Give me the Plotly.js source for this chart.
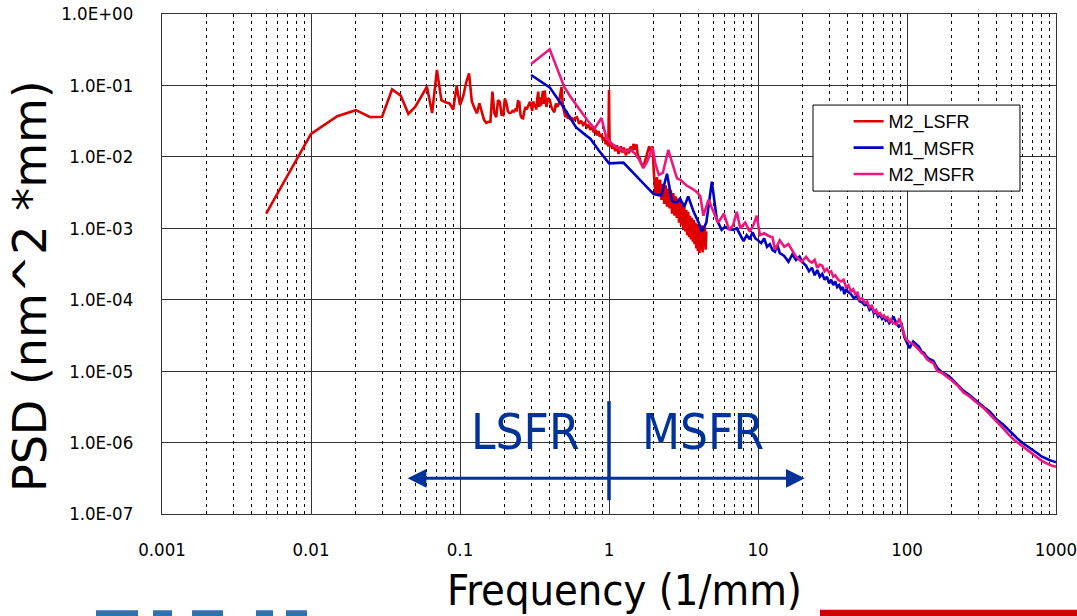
<!DOCTYPE html>
<html><head><meta charset="utf-8">
<script src="https://cdn.plot.ly/plotly-3.0.1.min.js"></script>
<style>html,body{margin:0;padding:0;background:#fff}#chart{width:1077px;height:616px}</style>
</head><body><div id="chart"></div>
<script>
// ---- data: M2_LSFR (red) ----
const lsfrFreq = [0.005,0.010,0.015,0.020,0.025,0.030,0.035,0.040,0.045,0.050,0.055,0.060,0.065,0.070,0.075,0.080,0.085,0.090,0.095,0.100,
0.105,0.110,0.115,0.120,0.125,0.130,0.135,0.140,0.145,0.150,0.155,0.160,0.165,0.170,0.175,0.180,0.185,0.190,0.195,0.200,
0.205,0.210,0.215,0.220,0.225,0.230,0.235,0.240,0.245,0.250,0.255,0.260,0.265,0.270,0.275,0.280,0.285,0.290,0.295,0.300,
0.305,0.310,0.315,0.320,0.325,0.330,0.335,0.340,0.345,0.350,0.360,0.365,0.370,0.380,0.390,0.400,0.410,0.420,0.430,0.440,
0.450,0.460,0.470,0.480,0.490,0.500,0.510,0.520,0.530,0.540,0.550,0.560,0.570,0.590,0.610,0.630,0.650,0.670,0.690,0.710,
0.730,0.750,0.770,0.790,0.810,0.830,0.850,0.870,0.890,0.910,0.930,0.950,0.970,0.990,1.000,1.005,1.010,
1.02,1.05,1.08,1.10,1.13,1.16,1.20,1.23,1.26,1.30,1.33,1.36,1.40,1.43,1.46,1.50,1.53,1.56,1.60,1.63,1.66,1.70,1.73,1.76,1.80,1.83,1.86,1.90,1.93,1.96,
2.00,2.05,2.10,2.15,2.20,2.25,2.30,2.35,2.40,2.45,2.50,2.55,2.60,2.65,2.70,2.75,2.80,2.85,2.90,2.95,
3.00,3.05,3.10,3.15,3.20,3.25,3.30,3.35,3.40,3.45,3.50,3.55,3.60,3.65,3.70,3.75,3.80,3.85,3.90,3.95,
4.00,4.05,4.10,4.15,4.20,4.25,4.30,4.35,4.40,4.45,4.50];
const lsfrPsd = [1.6e-3,2.1e-2,3.7e-2,4.5e-2,3.6e-2,3.65e-2,8.8e-2,7.2e-2,4.0e-2,5.0e-2,7.0e-2,9.6e-2,4.1e-2,0.165,6.2e-2,5.8e-2,5.6e-2,4.6e-2,9.8e-2,5.3e-2,
7.0e-2,0.110,0.148,6.0e-2,4.8e-2,4.07e-2,5.6e-2,4.2e-2,3.3e-2,3.0e-2,3.1e-2,3.1e-2,8.2e-2,4.1e-2,3.6e-2,6.2e-2,5.9e-2,3.9e-2,3.85e-2,6.5e-2,
5.6e-2,4.3e-2,4.1e-2,4.15e-2,4.4e-2,4.3e-2,4.6e-2,4.5e-2,6.0e-2,5.9e-2,3.8e-2,3.5e-2,3.46e-2,4.3e-2,5.0e-2,4.6e-2,5.0e-2,5.5e-2,5.9e-2,5.2e-2,
4.4e-2,6.0e-2,5.0e-2,5.5e-2,4.6e-2,6.5e-2,8.2e-2,5.0e-2,6.8e-2,5.2e-2,8.4e-2,5.5e-2,8.5e-2,5.0e-2,6.6e-2,6.3e-2,5.0e-2,4.5e-2,4.2e-2,5.6e-2,
5.0e-2,5.5e-2,7.5e-2,9.5e-2,5.2e-2,4.1e-2,3.6e-2,4.4e-2,3.4e-2,3.8e-2,3.3e-2,3.6e-2,3.1e-2,3.5e-2,3.6e-2,2.9e-2,3.2e-2,2.8e-2,3.0e-2,2.6e-2,
2.8e-2,2.4e-2,2.6e-2,2.2e-2,2.4e-2,2.0e-2,2.3e-2,1.9e-2,2.1e-2,1.7e-2,1.9e-2,1.5e-2,1.7e-2,1.4e-2,8.6e-2,3.0e-2,1.6e-2,
1.6e-2,1.3e-2,1.5e-2,1.2e-2,1.45e-2,1.1e-2,1.4e-2,1.15e-2,1.35e-2,1.05e-2,1.3e-2,1.12e-2,1.4e-2,1.18e-2,1.52e-2,1.25e-2,1.5e-2,1.05e-2,9.8e-3,8.5e-3,7.8e-3,7.0e-3,8.2e-3,9.5e-3,1.1e-2,1.25e-2,1.4e-2,1.2e-2,1.35e-2,1.4e-2,
6.0e-3,3.0e-3,5.2e-3,2.8e-3,4.8e-3,2.5e-3,4.2e-3,2.2e-3,4.0e-3,2.0e-3,3.6e-3,1.9e-3,3.4e-3,1.6e-3,3.1e-3,1.5e-3,2.8e-3,1.4e-3,2.6e-3,1.2e-3,
2.4e-3,1.1e-3,2.1e-3,9.5e-4,2.0e-3,9.0e-4,1.8e-3,8.0e-4,1.7e-3,7.5e-4,1.5e-3,7.0e-4,1.4e-3,6.5e-4,1.3e-3,6.0e-4,1.2e-3,5.2e-4,1.15e-3,4.8e-4,
1.1e-3,4.5e-4,1.05e-3,5.0e-4,1.1e-3,4.6e-4,1.0e-3,5.5e-4,1.05e-3,5.0e-4,9.0e-4];

// ---- data: M1_MSFR (blue) ----
const m1Freq = [0.30,0.40,0.50,0.60,0.70,0.75,0.85,1.00,1.25,1.50,1.75,2.00,2.25,2.45,2.65,2.85,3.00,3.20,3.40,3.70,
4.00,4.20,4.50,4.90,5.30,5.70,6.00,6.40,6.80,7.20,7.60,8.00,8.40,8.80,9.20,9.60,10.0,10.5,11.0,11.5,
12.0,12.5,13.0,13.5,14.0,15.0,16.0,17.0,18.0,19.0,20.0,21.0,22.0,23.0,24.0,25.0,26.0,27.0,28.0,29.0,30.0,31.0,32.0,33.0,34.0,35.0,
36.0,37.0,38.0,39.0,40.0,42.0,44.0,46.0,48.0,50.0,52.0,54.0,56.0,58.0,60.0,62.0,64.0,66.0,68.0,70.0,72.0,74.0,76.0,78.0,81.0,85.0,88.0,92.0,96.0,100,
104,110,115,120,125,130,135,140,150,160,170,180,190,200,220,240,260,280,300,330,360,400,440,
480,520,560,600,650,700,750,800,850,900,950,1000];
const m1Psd = [0.140,0.094,0.048,0.026,0.020,0.018,0.0125,0.0081,0.0083,0.0055,0.0040,0.0030,0.0029,0.0058,0.0024,0.0023,0.0026,0.0020,0.0028,0.0017,
0.0012,0.0009,0.0012,0.0045,0.0013,0.00095,0.00105,0.00098,0.00095,0.00100,0.00082,0.00066,0.00080,0.00070,0.00088,0.00072,0.00068,0.00062,0.00072,0.00055,
0.00060,0.00050,0.00047,0.00058,0.00045,0.00041,0.00034,0.00043,0.00036,0.00040,0.00033,0.00030,0.00025,0.00028,0.00022,0.00026,0.00021,0.00023,0.00019,0.00021,0.00017,0.00019,0.00016,0.00018,0.00015,0.00016,
0.00014,0.00015,0.00012,0.00014,0.00013,0.00012,0.000105,0.000112,0.000095,0.000092,0.000084,0.000088,0.000072,0.000078,0.000064,0.000068,0.000058,0.000062,0.000054,0.000058,0.000051,0.000053,0.000047,0.000050,0.000058,0.000046,0.000042,0.000045,0.000030,0.000025,
0.000021,0.000026,0.000024,0.000022,0.000019,0.000018,0.000016,0.000015,0.000014,0.000011,0.0000098,0.0000092,0.0000086,0.0000078,0.0000064,0.0000053,0.0000047,0.0000041,0.0000037,0.0000031,0.0000027,0.0000021,0.0000018,
0.0000015,0.0000013,0.0000011,0.00000098,0.00000088,0.00000079,0.00000071,0.00000064,0.00000060,0.00000057,0.00000055,0.00000053];

// ---- data: M2_MSFR (pink) ----
const m2Freq = [0.30,0.40,0.50,0.55,0.64,0.72,0.80,0.89,0.95,1.00,1.10,1.28,1.40,1.50,1.60,1.70,1.80,1.96,2.05,2.16,
2.30,2.50,2.60,2.86,3.00,3.30,3.60,3.90,4.10,4.30,4.65,5.00,5.40,5.90,6.40,6.80,7.20,7.60,8.20,8.80,
9.30,9.80,10.3,11.0,11.8,12.5,13.0,14.0,15.0,16.0,17.0,18.0,19.6,21.0,22.0,23.0,24.0,25.0,26.0,27.0,28.0,29.0,30.0,31.0,32.0,33.0,34.5,
36.0,37.5,39.0,40.5,42.0,43.5,45.0,46.5,48.0,50.0,52.0,54.0,56.0,58.0,60.0,62.0,64.0,66.0,68.0,70.0,72.0,74.0,76.0,78.0,80.0,85.0,89.0,93.0,97.0,100,105,110,
115,120,125,130,135,140,150,160,170,180,200,220,240,260,280,300,330,360,400,440,480,520,560,
600,650,700,750,800,850,900,950,1000];
const m2Psd = [0.200,0.320,0.096,0.070,0.045,0.032,0.025,0.035,0.020,0.0165,0.0140,0.0118,0.0125,0.0110,0.0090,0.0070,0.0085,0.0135,0.0080,0.0056,
0.0060,0.0125,0.0095,0.0050,0.0048,0.0040,0.0036,0.0032,0.0028,0.0015,0.0025,0.0018,0.0012,0.0016,0.00095,0.0011,0.0017,0.0010,0.0012,0.0009,
0.0011,0.0015,0.00080,0.00085,0.00078,0.00075,0.00050,0.00068,0.00055,0.00060,0.00048,0.00040,0.00034,0.00040,0.00035,0.00033,0.00036,0.00028,0.00031,0.00030,0.00025,0.00027,0.00024,0.00025,0.00021,0.00022,0.00019,
0.00018,0.00019,0.00015,0.00016,0.00013,0.00014,0.00012,0.000125,0.00010,0.000105,0.000090,0.000094,0.000078,0.000082,0.000068,0.000072,0.000062,0.000065,0.000058,0.000060,0.000055,0.000057,0.000050,0.000053,0.000048,0.000045,0.000055,0.000040,0.000030,0.000027,0.000025,0.000024,
0.000022,0.000020,0.000018,0.000017,0.000015,0.000014,0.000013,0.000010,0.0000096,0.0000088,0.0000074,0.0000062,0.0000050,0.0000045,0.0000039,0.0000035,0.0000030,0.0000025,0.0000020,0.0000016,0.0000013,0.0000011,0.00000098,
0.00000088,0.00000078,0.00000068,0.00000061,0.00000056,0.00000052,0.00000049,0.00000047,0.00000046];

// ---- axis ticks ----
const xTickVals = [0.001,0.01,0.1,1,10,100,1000];
const xTickText = ['0.001','0.01','0.1','1','10','100','1000'];
const yTickVals = [1e0,1e-1,1e-2,1e-3,1e-4,1e-5,1e-6,1e-7];
const yTickText = ['1.0E+00','1.0E-01','1.0E-02','1.0E-03','1.0E-04','1.0E-05','1.0E-06','1.0E-07'];

const seriesNames = ['M2_LSFR','M1_MSFR','M2_MSFR'];
const regionLabels = ['LSFR','MSFR'];
const axisTitles = ['Frequency (1/mm)','PSD (nm^2 *mm)'];

const tickFont = {family:'"DejaVu Sans Condensed", "DejaVu Sans", sans-serif', size:18.5, color:'#000'};
const bigFont = '"DejaVu Sans Condensed", "DejaVu Sans", sans-serif';
const annBlue = '#003399';
const logoBlue = '#3070b3';

const traces = [
  {x:lsfrFreq, y:lsfrPsd, name:seriesNames[0], mode:'lines', line:{color:'#e00000', width:2.6}, legendgroup:'a'},
  {x:m1Freq, y:m1Psd, name:seriesNames[1], mode:'lines', line:{color:'#0000c8', width:2.6}, legendgroup:'b'},
  {x:m2Freq, y:m2Psd, name:seriesNames[2], mode:'lines', line:{color:'#f0167f', width:2.6}, legendgroup:'c'}
];

function logoBar(x0, x1) {
  return {type:'rect', xref:'paper', yref:'paper', x0:x0, x1:x1, y0:-0.21, y1:-0.1925,
          line:{width:0}, fillcolor:logoBlue, layer:'above'};
}

const layout = {
  width:1077, height:616,
  margin:{l:162, r:21, t:14, b:102},
  paper_bgcolor:'#fff', plot_bgcolor:'#fff',
  showlegend:true,
  legend:{x:0.768, y:0.822, xanchor:'left', yanchor:'top', bgcolor:'rgba(0,0,0,0)', borderwidth:0,
          font:{family:'"Liberation Sans", Arial, sans-serif', size:18, color:'#000'}, tracegroupgap:3, traceorder:'normal'},
  xaxis:{type:'log', range:[-3,3], tickmode:'array', tickvals:xTickVals, ticktext:xTickText,
         showgrid:true, gridcolor:'#333', gridwidth:1, zeroline:false,
         minor:{dtick:'D1', showgrid:true, gridcolor:'#000', gridwidth:1, griddash:'3px,4px', ticks:''},
         showline:true, linecolor:'#333', linewidth:1, mirror:true, ticks:'', ticklabelstandoff:19,
         ticklabeloverflow:'allow', tickfont:tickFont},
  yaxis:{type:'log', range:[-7,0], tickmode:'array', tickvals:yTickVals, ticktext:yTickText,
         showgrid:true, gridcolor:'#333', gridwidth:1, zeroline:false,
         showline:true, linecolor:'#333', linewidth:1, mirror:true, ticks:'', ticklabelstandoff:24,
         ticklabeloverflow:'allow', tickfont:tickFont},
  shapes:[
    {type:'rect', xref:'paper', yref:'paper', x0:0.7282, x1:0.9597, y0:0.6458, y1:0.8179,
     line:{color:'#000', width:1}, fillcolor:'#fff', layer:'above'},
    {type:'line', xref:'x', yref:'y', x0:1, x1:1, y0:1.56e-7, y1:3.8e-6, line:{color:annBlue, width:3.5}},
    {type:'rect', xref:'paper', yref:'paper', x0:0.736, x1:1.03, y0:-0.21, y1:-0.1913,
     line:{width:0}, fillcolor:'#cc0000', layer:'above'},
    logoBar(-0.0738, -0.0268), logoBar(-0.0101, 0.0112), logoBar(0.0336, 0.0682),
    logoBar(0.1051, 0.1242), logoBar(0.1387, 0.1622)
  ],
  annotations:[
    {text:axisTitles[0], xref:'paper', yref:'paper', x:0.517, y:-0.1525, showarrow:false,
     font:{family:bigFont, size:43, color:'#000'}, xanchor:'center', yanchor:'middle'},
    {text:axisTitles[1], xref:'paper', yref:'paper', x:-0.1477, y:0.4557, textangle:-90,
     showarrow:false, font:{family:'"DejaVu Sans", sans-serif', size:46, color:'#000'}, xanchor:'center', yanchor:'middle'},
    {text:regionLabels[0], xref:'paper', yref:'paper', x:0.407, y:0.1635, showarrow:false,
     font:{family:bigFont, size:49, color:annBlue}, xanchor:'center', yanchor:'middle'},
    {text:regionLabels[1], xref:'paper', yref:'paper', x:0.605, y:0.1635, showarrow:false,
     font:{family:bigFont, size:49, color:annBlue}, xanchor:'center', yanchor:'middle'},
    {text:'', xref:'x', yref:'y', axref:'x', ayref:'y', x:Math.log10(20.6), y:-6.5, ax:Math.log10(0.0435), ay:-6.5,
     showarrow:true, arrowside:'end+start', arrowhead:2, startarrowhead:2, arrowsize:1.25, startarrowsize:1.25,
     arrowwidth:3, arrowcolor:annBlue, standoff:0, startstandoff:0}
  ]
};

Plotly.newPlot('chart', traces, layout, {displayModeBar:false, staticPlot:true});
</script>
</body></html>
